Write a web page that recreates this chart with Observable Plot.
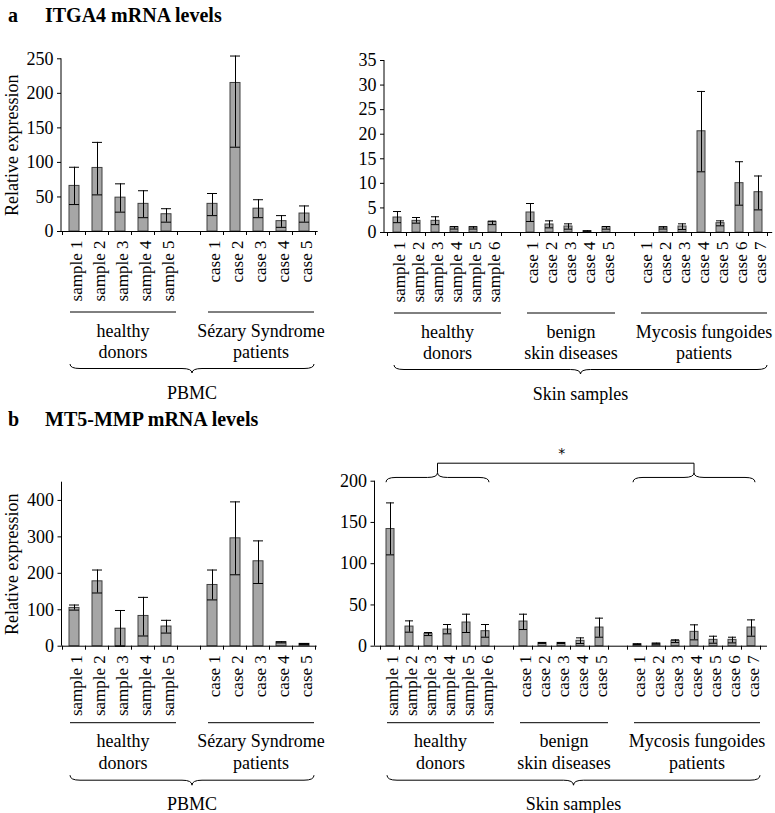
<!DOCTYPE html>
<html><head><meta charset="utf-8">
<script src="https://cdn.jsdelivr.net/npm/d3@7"></script>
<script src="https://cdn.jsdelivr.net/npm/@observablehq/plot@0.6"></script>
<style>
html,body{margin:0;padding:0;background:#fff;}
#root{position:relative;width:775px;height:813px;font-family:"Liberation Serif",serif;color:#000;overflow:hidden;}
.title{position:absolute;font-weight:bold;font-size:20px;line-height:20px;white-space:nowrap;}
</style></head><body>
<div id="root">
  <div class="title" style="left:8px;top:5px">a</div>
  <div class="title" style="left:45px;top:5px">ITGA4 mRNA levels</div>
  <div class="title" style="left:8px;top:409px">b</div>
  <div class="title" style="left:45px;top:409px">MT5-MMP mRNA levels</div>
</div>
<script>
// ---------- categories ----------
const pbmcHealthyCats = ["sample 1","sample 2","sample 3","sample 4","sample 5"];
const pbmcSezaryCats  = ["case 1","case 2","case 3","case 4","case 5"];
const skinHealthyCats = ["sample 1","sample 2","sample 3","sample 4","sample 5","sample 6"];
const skinBenignCats  = ["case 1","case 2","case 3","case 4","case 5"];
const skinMFCats      = ["case 1","case 2","case 3","case 4","case 5","case 6","case 7"];
const pbmcGroupNames = [["healthy","donors"],["Sézary Syndrome","patients"]];
const skinGroupNames = [["healthy","donors"],["benign","skin diseases"],["Mycosis fungoides","patients"]];

// ---------- ITGA4 (panel a) ----------
const itga4PbmcHealthyMean = [66, 92, 49, 40, 25];
const itga4PbmcHealthyLo   = [39, 53, 28, 20, 13.5];
const itga4PbmcHealthyHi   = [93, 129, 69, 59, 33];
const itga4PbmcSezaryMean  = [40, 215, 33, 15, 26];
const itga4PbmcSezaryLo    = [23, 122, 20, 6, 13.5];
const itga4PbmcSezaryHi    = [55, 254, 46, 23, 37];

const itga4SkinHealthyMean = [3.05, 2.37, 2.37, 1.09, 1.09, 2.17];
const itga4SkinHealthyLo   = [2.0, 1.9, 1.6, 0.7, 0.7, 1.6];
const itga4SkinHealthyHi   = [4.27, 3.05, 3.2, 1.2, 1.15, 2.3];
const itga4SkinBenignMean  = [4.07, 1.63, 1.22, 0.27, 1.09];
const itga4SkinBenignLo    = [2.24, 0.95, 0.68, 0.14, 0.68];
const itga4SkinBenignHi    = [5.9, 2.37, 1.76, 0.34, 1.22];
const itga4SkinMFMean      = [null, 1.09, 1.22, 20.6, 1.9, 10.04, 8.2];
const itga4SkinMFLo        = [null, 0.7, 0.6, 12.35, 1.36, 5.56, 4.6];
const itga4SkinMFHi        = [null, 1.15, 1.76, 28.7, 2.37, 14.4, 11.5];

// ---------- MT5-MMP (panel b) ----------
const mt5PbmcHealthyMean = [105, 178, 48, 83, 54];
const mt5PbmcHealthyLo   = [99, 146, 0, 28, 36];
const mt5PbmcHealthyHi   = [113, 209, 98, 134, 71];
const mt5PbmcSezaryMean  = [168, 296, 233, 11, 6.4];
const mt5PbmcSezaryLo    = [127, 196, 172, 9, 4.5];
const mt5PbmcSezaryHi    = [209, 396, 289, 12, 7.3];

const mt5SkinHealthyMean = [142, 23.8, 15, 20.2, 28.7, 18.2];
const mt5SkinHealthyLo   = [110.7, 17, 12.9, 15, 16.6, 10.9];
const mt5SkinHealthyHi   = [173.7, 30.7, 16.6, 26.3, 38.8, 26.3];
const mt5SkinBenignMean  = [29.9, 4, 4, 6.5, 22.6];
const mt5SkinBenignLo    = [20.2, 3.4, 3.2, 3.2, 10.9];
const mt5SkinBenignHi    = [38.8, 4.4, 4.4, 10.1, 34];
const mt5SkinMFMean      = [2.4, 3.2, 6.5, 17.4, 7.7, 7.7, 22.6];
const mt5SkinMFLo        = [2, 2.4, 4.4, 7.7, 3.6, 4, 12.1];
const mt5SkinMFHi        = [2.8, 3.6, 7.7, 25.9, 12.1, 10.9, 31.9];

// ---------- axis ticks ----------
const itga4PbmcTicks = [0, 50, 100, 150, 200, 250];
const itga4SkinTicks = [0, 5, 10, 15, 20, 25, 30, 35];
const mt5PbmcTicks   = [0, 100, 200, 300, 400];
const mt5SkinTicks   = [0, 50, 100, 150, 200];

const yTitle = "Relative expression";
const SERIF = "Liberation Serif";

function bracePath(sx, ex, yEnd, yTip, r) {
  const m = (sx + ex) / 2, ym = (yEnd + yTip) / 2;
  return `M${sx},${yEnd}Q${sx},${ym} ${sx + r},${ym}L${m - r},${ym}Q${m},${ym} ${m},${yTip}` +
         `Q${m},${ym} ${m + r},${ym}L${ex - r},${ym}Q${ex},${ym} ${ex},${yEnd}`;
}

function panel(cfg) {
  const keys = [], rows = [], groupKeys = [];
  cfg.groups.forEach((g, gi) => {
    if (gi > 0) keys.push("gap" + gi);
    const gk = [];
    g.cats.forEach((c, ci) => {
      const key = gi + ":" + c;
      keys.push(key); gk.push(key);
      rows.push({key, label: c, mean: g.mean[ci], lo: g.lo[ci], hi: g.hi[ci]});
    });
    groupKeys.push(gk);
  });
  const bars = rows.filter(d => d.mean != null);
  const L = cfg.lay;

  const annot = (index, scales, values, dims) => {
    const x = scales.x, y = scales.y;
    const step = typeof x.step === "function" ? x.step() : (dims.width - dims.marginLeft - dims.marginRight) / keys.length;
    const bw = typeof x.bandwidth === "function" ? x.bandwidth() : step * 0.44;
    const pad = (step - bw) / 2;
    const y0 = y(0), yTop = y(cfg.yDomain[1]);
    const xl = dims.marginLeft;
    const g = d3.create("svg:g").attr("fill", "none").attr("stroke", "#000").attr("stroke-width", 1)
      .attr("font-family", SERIF).attr("font-size", 18);
    g.append("line").attr("x1", xl).attr("x2", xl).attr("y1", yTop).attr("y2", y0);
    const bounds = keys.map(k => x(k) - pad).concat([x(keys[keys.length - 1]) + bw + pad]);
    bounds.forEach(b => g.append("line").attr("x1", b).attr("x2", b).attr("y1", y0).attr("y2", y0 + 4));
    const spans = groupKeys.map(gk => [x(gk[0]) + 1, x(gk[gk.length - 1]) + bw + 5]);
    spans.forEach(([sx, ex], gi) => {
      g.append("line").attr("x1", sx).attr("x2", ex).attr("y1", y0 + L.bracket).attr("y2", y0 + L.bracket);
      const names = cfg.groupNames[gi];
      [L.l1, L.l2].forEach((dy, li) => {
        g.append("text").attr("x", (sx + ex) / 2).attr("y", y0 + dy).attr("dy", "0.35em")
          .attr("text-anchor", "middle").attr("fill", "#000").attr("stroke", "none")
          .text(names[li]);
      });
    });
    const bs = spans[0][0], be = spans[spans.length - 1][1];
    g.append("path").attr("d", bracePath(bs, be, y0 + L.braceTop, y0 + L.braceTip, 10));
    g.append("text").attr("x", (bs + be) / 2).attr("y", y0 + L.sec).attr("dy", "0.35em")
      .attr("text-anchor", "middle").attr("fill", "#000").attr("stroke", "none").text(cfg.section);
    if (cfg.sig) {
      const gs = cfg.sig.map(gi => [x(groupKeys[gi][0]), x(groupKeys[gi][groupKeys[gi].length - 1]) + bw]);
      const mids = gs.map(([a, b]) => (a + b) / 2);
      const yLine = yTop - 17.5, yTip = yTop - 8, yEnd = yTop + 1.5;
      gs.forEach(([a, b]) => g.append("path").attr("d", bracePath(a, b, yEnd, yTip, 10)));
      g.append("path").attr("d", `M${mids[0]},${yTip}L${mids[0]},${yLine}L${mids[1]},${yLine}L${mids[1]},${yTip}`);
      g.append("text").attr("x", (mids[0] + mids[1]) / 2 - 4).attr("y", yLine - 10).attr("dy", "0.35em")
        .attr("text-anchor", "middle").attr("fill", "#000").attr("stroke", "none")
        .attr("font-family", "DejaVu Sans").attr("font-size", 14).text("*");
    }
    return g.node();
  };

  const marks = [
    Plot.barY(bars, {x: "key", y: "mean", fill: "#a6a6a6", stroke: "#404040", strokeWidth: 1}),
    Plot.ruleX(bars, {x: "key", y1: "lo", y2: "hi", stroke: "#000", strokeWidth: 1}),
    Plot.tickY(bars, {x: "key", y: "hi", stroke: "#000", strokeWidth: 1}),
    Plot.tickY(bars, {x: "key", y: "lo", stroke: "#000", strokeWidth: 1}),
    Plot.ruleY([0], {stroke: "#000", strokeWidth: 1}),
    Plot.text(rows, {x: "key", y: 0, text: "label", rotate: -90, textAnchor: "end", dy: 9, dx: 2, fill: "#000", fontFamily: SERIF, fontSize: 17}),
    annot
  ];
  if (cfg.yLabel) {
    marks.push(Plot.text([cfg.yLabel], {frameAnchor: "left", text: d => d, rotate: -90, textAnchor: "middle", dx: -49.5, fill: "#000", fontFamily: SERIF, fontSize: 18}));
  }

  const chart = Plot.plot({
    width: cfg.width, height: cfg.height,
    marginLeft: cfg.mL, marginRight: cfg.mR, marginTop: cfg.mT, marginBottom: cfg.mB,
    style: {fontFamily: SERIF, fontSize: "18px", background: "transparent", overflow: "visible"},
    x: {domain: keys, paddingInner: 0.56, paddingOuter: 0.28, axis: null},
    y: {domain: cfg.yDomain, ticks: cfg.yTicks, tickSize: 4, tickPadding: 4, label: null, tickFormat: d => String(d)},
    marks
  });
  chart.style.position = "absolute";
  chart.style.left = cfg.left + "px";
  chart.style.top = cfg.top + "px";
  chart.style.width = cfg.width + "px";
  chart.style.maxWidth = "none";
  document.getElementById("root").appendChild(chart);
}

const layTop = {bracket: 81, l1: 100, l2: 121, braceTop: 133, braceTip: 142, sec: 162};
const layBot = {bracket: 77, l1: 94.5, l2: 117, braceTop: 129.5, braceTip: 139.5, sec: 157.5};

panel({
  left: 0, top: 0, width: 370, height: 410, mL: 61, mR: 52.3, mT: 58.3, mB: 179,
  yDomain: [0, 250], yTicks: itga4PbmcTicks, yLabel: yTitle, section: "PBMC", lay: layTop,
  groupNames: pbmcGroupNames,
  groups: [
    {cats: pbmcHealthyCats, mean: itga4PbmcHealthyMean, lo: itga4PbmcHealthyLo, hi: itga4PbmcHealthyHi},
    {cats: pbmcSezaryCats, mean: itga4PbmcSezaryMean, lo: itga4PbmcSezaryLo, hi: itga4PbmcSezaryHi}
  ]
});
panel({
  left: 330, top: 0, width: 445, height: 410, mL: 54, mR: 2.8, mT: 60, mB: 178,
  yDomain: [0, 35], yTicks: itga4SkinTicks, section: "Skin samples", lay: layTop,
  groupNames: skinGroupNames,
  groups: [
    {cats: skinHealthyCats, mean: itga4SkinHealthyMean, lo: itga4SkinHealthyLo, hi: itga4SkinHealthyHi},
    {cats: skinBenignCats, mean: itga4SkinBenignMean, lo: itga4SkinBenignLo, hi: itga4SkinBenignHi},
    {cats: skinMFCats, mean: itga4SkinMFMean, lo: itga4SkinMFLo, hi: itga4SkinMFHi}
  ]
});
panel({
  left: 0, top: 410, width: 370, height: 403, mL: 61.5, mR: 53.3, mT: 71.7, mB: 167.3,
  yDomain: [0, 450], yTicks: mt5PbmcTicks, yLabel: yTitle, section: "PBMC", lay: layBot,
  groupNames: pbmcGroupNames,
  groups: [
    {cats: pbmcHealthyCats, mean: mt5PbmcHealthyMean, lo: mt5PbmcHealthyLo, hi: mt5PbmcHealthyHi},
    {cats: pbmcSezaryCats, mean: mt5PbmcSezaryMean, lo: mt5PbmcSezaryLo, hi: mt5PbmcSezaryHi}
  ]
});
panel({
  left: 330, top: 410, width: 445, height: 403, mL: 44.5, mR: 8, mT: 70.7, mB: 167.3,
  yDomain: [0, 200], yTicks: mt5SkinTicks, section: "Skin samples", lay: layBot,
  groupNames: skinGroupNames, sig: [0, 2],
  groups: [
    {cats: skinHealthyCats, mean: mt5SkinHealthyMean, lo: mt5SkinHealthyLo, hi: mt5SkinHealthyHi},
    {cats: skinBenignCats, mean: mt5SkinBenignMean, lo: mt5SkinBenignLo, hi: mt5SkinBenignHi},
    {cats: skinMFCats, mean: mt5SkinMFMean, lo: mt5SkinMFLo, hi: mt5SkinMFHi}
  ]
});
</script>
</body></html>
